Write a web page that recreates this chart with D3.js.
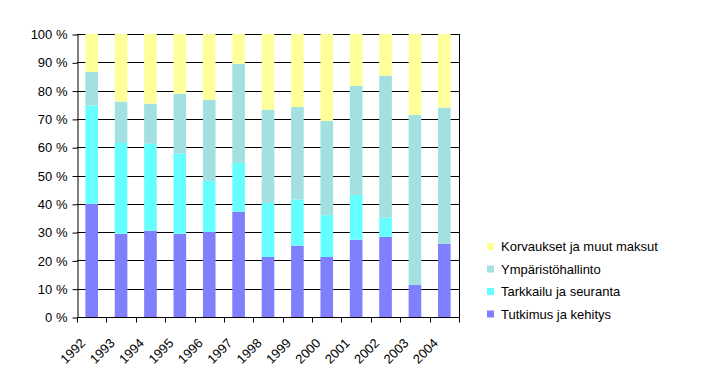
<!DOCTYPE html>
<html>
<head>
<meta charset="utf-8">
<script src="https://cdn.jsdelivr.net/npm/d3@7"></script>
<style>
  body { margin: 0; background: #fff; }
  svg text { font-family: "Liberation Sans", Arial, sans-serif; font-size: 13px; fill: #000; }
</style>
</head>
<body>
<svg id="viz" width="717" height="388"></svg>
<script>
const years = ["1992","1993","1994","1995","1996","1997","1998","1999","2000","2001","2002","2003","2004"];
const tutkimus   = [40.0, 29.4, 30.5, 29.4, 30.1, 37.2, 21.2, 25.2, 21.2, 27.3, 28.3, 11.3, 25.9];
const tarkkailu  = [34.7, 32.1, 30.7, 28.3, 18.0, 17.2, 19.1, 16.3, 14.8, 15.8, 6.8, 0, 0];
const ymparisto  = [11.9, 14.6, 14.2, 21.2, 28.7, 35.1, 33.0, 32.7, 33.3, 38.6, 50.2, 60.1, 48.1];
const korvaukset = [13.4, 23.9, 24.6, 21.1, 23.2, 10.5, 26.7, 25.8, 30.7, 18.3, 14.7, 28.6, 26.0];

const seriesNames = ["Tutkimus ja kehitys","Tarkkailu ja seuranta","Ympäristöhallinto","Korvaukset ja muut maksut"];
const seriesColors = ["#8080ff","#66ffff","#a3e0e0","#ffff99"];
const yTicks = [0,10,20,30,40,50,60,70,80,90,100];

const rows = years.map((yr,i) => ({
    year: yr,
    s0: tutkimus[i],
    s1: tarkkailu[i],
    s2: ymparisto[i],
    s3: korvaukset[i]
}));

const svg = d3.select("#viz");
const plotL = 77, plotR = 459, plotT = 34, plotB = 317;

const x = d3.scaleBand().domain(years).range([plotL, plotR]);
const y = d3.scaleLinear().domain([0, 1]).range([plotB, plotT]);

const stacked = d3.stack()
    .keys(["s0","s1","s2","s3"])
    .offset(d3.stackOffsetExpand)(rows);

// gridlines
svg.append("g").selectAll("line")
    .data(yTicks.slice(1))
    .join("line")
    .attr("x1", plotL).attr("x2", plotR)
    .attr("y1", d => Math.round(y(d/100)) + 0.5)
    .attr("y2", d => Math.round(y(d/100)) + 0.5)
    .attr("stroke", "#000");

// bars
const barW = x.bandwidth() * 0.43;
svg.append("g").selectAll("g")
    .data(stacked)
    .join("g")
    .attr("fill", (d,i) => seriesColors[i])
    .selectAll("rect")
    .data(d => d)
    .join("rect")
    .attr("x", d => x(d.data.year) + (x.bandwidth() - barW)/2)
    .attr("width", barW)
    .attr("y", d => y(d[1]))
    .attr("height", d => y(d[0]) - y(d[1]));

// right border
svg.append("line")
    .attr("x1", plotR + 0.5).attr("x2", plotR + 0.5)
    .attr("y1", plotT).attr("y2", plotB)
    .attr("stroke", "#000");

// y axis
const yAxis = d3.axisLeft(y)
    .tickValues(yTicks.map(d => d/100))
    .tickFormat(d => Math.round(d*100) + " %")
    .tickSize(5).tickSizeOuter(0).tickPadding(5);
const ya = svg.append("g")
    .attr("transform", `translate(${plotL + 0.5},0.5)`)
    .call(yAxis);
ya.attr("font-family", null).attr("font-size", null);
ya.selectAll("text").style("font-size", "13px");
ya.selectAll("line, path").attr("stroke", "#000");

// x axis, ticks at band edges
const xa = svg.append("g").attr("transform", `translate(0,${plotB + 0.5})`);
xa.append("line").attr("x1", plotL).attr("x2", plotR + 1).attr("stroke", "#000");
xa.selectAll("line.tk")
    .data(years.concat(["end"]))
    .join("line")
    .attr("class", "tk")
    .attr("x1", (d,i) => Math.round(plotL + i * x.step()) + 0.5)
    .attr("x2", (d,i) => Math.round(plotL + i * x.step()) + 0.5)
    .attr("y1", 0).attr("y2", 5)
    .attr("stroke", "#000");
xa.selectAll("text")
    .data(years)
    .join("text")
    .attr("text-anchor", "end")
    .attr("transform", d => `translate(${x(d) + x.bandwidth()/2 - 5.5},${26.5}) rotate(-45)`)
    .text(d => d);

// legend
const legendOrder = [3,2,1,0];
const lg = svg.append("g").attr("transform", "translate(487,243)");
legendOrder.forEach((si, k) => {
    const g = lg.append("g").attr("transform", `translate(0,${k * 22.5})`);
    g.append("rect").attr("width", 7).attr("height", 7).attr("fill", seriesColors[si]);
    g.append("text").attr("x", 14).attr("y", 8).text(seriesNames[si]);
});
</script>
</body>
</html>
